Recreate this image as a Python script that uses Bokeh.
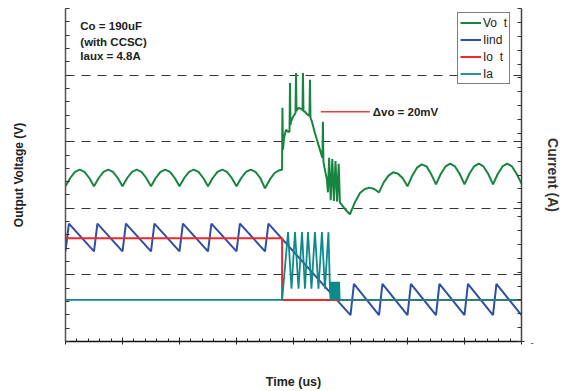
from bokeh.plotting import figure
from bokeh.models import Range1d, LinearAxis, FixedTicker, Legend, LegendItem, Label
from bokeh.embed import file_html
from bokeh.resources import INLINE

# ---------------- data (time in divisions, voltage in mV offset, current in A) -------------
vout_t = [
    0.0, 0.083, 0.167, 0.25, 0.333, 0.417,
    0.5, 0.583, 0.667, 0.75, 0.833, 0.917,
    1.0, 1.083, 1.167, 1.25, 1.333, 1.417,
    1.5, 1.583, 1.667, 1.75, 1.833, 1.917,
    2.0, 2.083, 2.167, 2.25, 2.333, 2.417,
    2.5, 2.583, 2.667, 2.75, 2.833, 2.917,
    3.0, 3.083, 3.167, 3.25, 3.333, 3.417,
    3.5, 3.583, 3.667, 3.75, 3.80,
    3.805, 3.816, 3.834, 3.869, 3.904, 3.930, 3.939, 3.947, 3.956, 3.991,
    4.035, 4.044, 4.053, 4.061, 4.096, 4.149, 4.158, 4.166, 4.175, 4.201,
    4.254, 4.280, 4.289, 4.298, 4.324, 4.376, 4.411, 4.446, 4.499, 4.508,
    4.516, 4.525, 4.551, 4.586, 4.604,
    4.625, 4.653, 4.681, 4.709, 4.737, 4.765, 4.793,
    4.814, 4.902, 4.989,
    5.083, 5.167, 5.25, 5.333, 5.417,
    5.5, 5.583, 5.667, 5.75, 5.833, 5.917,
    6.0, 6.083, 6.167, 6.25, 6.333, 6.417,
    6.5, 6.583, 6.667, 6.75, 6.833, 6.917,
    7.0, 7.083, 7.167, 7.25, 7.333, 7.417,
    7.5, 7.583, 7.667, 7.75, 7.833, 7.917,
    8.0,
]
vout_v = [
    23.3, 24.55, 25.47, 25.8, 25.47, 24.55,
    23.3, 24.55, 25.47, 25.8, 25.47, 24.55,
    23.3, 24.55, 25.47, 25.8, 25.47, 24.55,
    23.3, 24.55, 25.47, 25.8, 25.47, 24.55,
    23.3, 24.55, 25.47, 25.8, 25.47, 24.55,
    23.3, 24.55, 25.47, 25.8, 25.47, 24.55,
    23.3, 24.55, 25.47, 25.8, 25.47, 24.55,
    23.0, 24.3, 25.3, 25.7, 25.8,
    35.1, 28.8, 30.6, 31.8, 31.5, 31.5, 38.8, 32.5, 33.0, 33.7,
    34.3, 40.3, 34.6, 34.8, 35.1, 34.8, 34.8, 40.3, 34.6, 34.5,
    34.0, 33.9, 39.3, 33.6, 33.0, 31.3, 30.3, 29.3, 27.8, 27.6,
    33.0, 27.0, 25.8, 24.3, 22.4,
    27.6, 21.2, 27.4, 21.1, 27.1, 21.0, 26.7,
    20.9, 19.9, 19.1,
    21.0, 22.3, 22.9, 23.1, 22.9,
    22.4, 23.9, 24.9, 25.4, 25.2, 24.5,
    23.3, 24.9, 26.1, 26.6, 26.3, 25.1,
    23.6, 25.15, 26.28, 26.7, 26.28, 25.15,
    23.6, 25.15, 26.28, 26.7, 26.28, 25.15,
    23.6, 25.15, 26.28, 26.7, 26.28, 25.15,
    23.7,
]

iind_t = [0.0, 0.06, 0.5, 0.56, 1.0, 1.06, 1.5, 1.56, 2.0, 2.06, 2.5, 2.56,
          3.0, 3.06, 3.5, 3.56, 5.0, 5.06, 5.5, 5.56, 6.0, 6.06, 6.5, 6.56,
          7.0, 7.06, 7.5, 7.56, 8.0]
iind_v = [3.5, 5.5, 3.5, 5.5, 3.5, 5.5, 3.5, 5.5, 3.5, 5.5, 3.5, 5.5,
          3.5, 5.5, 3.5, 5.5, -1.1, 1.15, -1.1, 1.15, -1.1, 1.15, -1.1, 1.15,
          -1.1, 1.15, -1.1, 1.15, -1.1]

iout_t = [0.0, 3.80, 3.80, 8.0]
iout_v = [4.45, 4.45, 0.0, 0.0]

ia_t = [0.0, 3.80, 3.904, 3.965, 4.026, 4.088, 4.149, 4.201, 4.254, 4.315,
        4.376, 4.438, 4.499, 4.551, 4.613, 4.639,
        4.65, 4.66, 4.67, 4.68, 4.69, 4.70, 4.71, 4.72, 4.73, 4.74, 4.75,
        4.76, 4.77, 4.78, 4.79, 4.80, 4.81, 8.0]
ia_v = [0.0, 0.0, 4.88, 0.8, 4.88, 0.8, 4.88, 0.8, 4.88, 0.8,
        4.88, 0.8, 4.88, 0.8, 4.88, 0.8,
        0.0, 1.3, 0.0, 1.3, 0.0, 1.3, 0.0, 1.3, 0.0, 1.3, 0.0,
        1.3, 0.0, 1.3, 0.0, 1.3, 0.0, 0.0]

dvo_t = [4.48, 5.34]
dvo_v = [34.5, 34.5]

volt_ticks = [0, 10, 20, 30, 40, 50]
cur_ticks = [-3, 0, 3, 6, 9, 12, 15, 18, 21]
cur_labels = {-3: "-"}
time_ticks = [0, 1, 2, 3, 4, 5, 6, 7, 8]
legend_labels = ["Vo\u00a0\u00a0t", "Iind", "Io\u00a0\u00a0t", "Ia"]

GREEN = "#17853f"
BLUE = "#2f4fa6"
RED = "#ec2a2f"
TEAL = "#0d8a8a"
FONT = "Liberation Sans"

p = figure(width=563, height=391, output_backend="svg", toolbar_location=None,
           x_range=Range1d(0, 8), y_range=Range1d(0, 50),
           min_border_left=65, min_border_right=41, min_border_top=8, min_border_bottom=48)
p.extra_y_ranges = {"cur": Range1d(-3, 21)}
p.outline_line_color = None
p.background_fill_color = "white"
p.border_fill_color = "white"

# grid
p.xgrid.visible = False
p.ygrid.ticker = FixedTicker(ticks=volt_ticks)
p.ygrid.grid_line_color = "#333333"
p.ygrid.grid_line_dash = "9 7"
p.ygrid.grid_line_width = 1


def hide_labels(ax):
    ax.major_label_text_font_size = "0px"
    ax.major_label_text_color = None
    ax.major_label_standoff = 0


# left axis
ya = p.yaxis[0]
ya.ticker = FixedTicker(ticks=volt_ticks, minor_ticks=[v + d for v in volt_ticks[:-1] for d in (2, 4, 6, 8)])
ya.major_tick_in = 4
ya.major_tick_out = 0
ya.minor_tick_in = 4
ya.minor_tick_out = 0
hide_labels(ya)
ya.axis_line_color = "#555555"
ya.axis_line_width = 1.5
ya.major_tick_line_color = "#333333"
ya.minor_tick_line_color = "#333333"
ya.axis_label = "Output Voltage (V)"
ya.axis_label_text_font = FONT
ya.axis_label_text_font_style = "bold"
ya.axis_label_text_font_size = "12px"
ya.axis_label_text_color = "#222222"
ya.axis_label_standoff = 40

# bottom axis
xa = p.xaxis[0]
xa.ticker = FixedTicker(ticks=time_ticks, minor_ticks=[t + d for t in time_ticks[:-1] for d in (0.2, 0.4, 0.6, 0.8)])
xa.major_tick_in = 4
xa.major_tick_out = 3
xa.minor_tick_in = 3
xa.minor_tick_out = 0
hide_labels(xa)
xa.axis_line_color = "#111111"
xa.axis_line_width = 1.5
xa.major_tick_line_color = "#222222"
xa.minor_tick_line_color = "#222222"
xa.axis_label = "Time (us)"
xa.axis_label_text_font = FONT
xa.axis_label_text_font_style = "bold"
xa.axis_label_text_font_size = "12.5px"
xa.axis_label_text_color = "#222222"
xa.axis_label_standoff = 30

# right axis: only the bottom tick carries a label ("-"); the rest are plain tick marks
ra = LinearAxis(y_range_name="cur")
ra.ticker = FixedTicker(ticks=[c for c in cur_labels],
                        minor_ticks=[c for c in range(cur_ticks[0] + 1, cur_ticks[-1] + 1)])
ra.major_label_overrides = cur_labels
ra.major_tick_in = 4
ra.major_tick_out = 3
ra.minor_tick_in = 4
ra.minor_tick_out = 0
ra.major_label_text_font = FONT
ra.major_label_text_font_size = "10px"
ra.major_label_text_color = "#666666"
ra.major_label_standoff = 6
ra.axis_line_color = "#444444"
ra.axis_line_width = 1.5
ra.major_tick_line_color = "#333333"
ra.minor_tick_line_color = "#333333"
ra.axis_label = "Current (A)"
ra.axis_label_text_font = FONT
ra.axis_label_text_font_style = "bold"
ra.axis_label_text_font_size = "14px"
ra.axis_label_text_color = "#333333"
ra.axis_label_standoff = 8
p.add_layout(ra, "right")

# traces
r_v = p.line(vout_t, vout_v, line_color=GREEN, line_width=2)
r_ind = p.line(iind_t, iind_v, line_color=BLUE, line_width=2, y_range_name="cur")
r_out = p.line(iout_t, iout_v, line_color=RED, line_width=2, y_range_name="cur")
r_a = p.line(ia_t, ia_v, line_color=TEAL, line_width=1.8, y_range_name="cur")

# delta-vo marker line
p.line(dvo_t, dvo_v, line_color="#ee3b3b", line_width=1.5)

# annotations
for txt, yy in [("Co = 190uF", 47.3), ("(with CCSC)", 45.0), ("Iaux = 4.8A", 42.8)]:
    p.add_layout(Label(x=0.26, y=yy, text=txt, text_font=FONT, text_font_style="bold",
                       text_font_size="11.5px", text_baseline="middle", text_color="#222222"))
p.add_layout(Label(x=5.39, y=34.4, text="\u0394vo = 20mV", text_font=FONT, text_font_style="bold",
                   text_font_size="11.5px", text_baseline="middle", text_color="#222222"))

legend = Legend(items=[LegendItem(label=legend_labels[0], renderers=[r_v]),
                       LegendItem(label=legend_labels[1], renderers=[r_ind]),
                       LegendItem(label=legend_labels[2], renderers=[r_out]),
                       LegendItem(label=legend_labels[3], renderers=[r_a])],
                location=(392, 257), orientation="vertical",
                border_line_color="black", border_line_width=1,
                background_fill_color="white", background_fill_alpha=1.0,
                label_text_font=FONT, label_text_font_size="12px", label_text_color="#222222",
                label_standoff=2, glyph_width=21, glyph_height=15, label_height=15,
                spacing=2, padding=2, margin=0)
p.add_layout(legend, "center")

open("out.html", "w").write(file_html(p, INLINE))
